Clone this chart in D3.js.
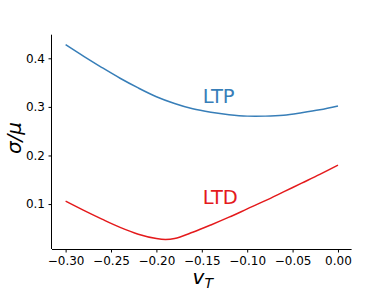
<!DOCTYPE html>
<html>
<head>
<meta charset="utf-8">
<script src="https://cdn.jsdelivr.net/npm/d3@7"></script>
<style>
  body { margin: 0; background: #fff; }
  text { font-family: "DejaVu Sans", sans-serif; }
</style>
</head>
<body>
<script>
// threshold values on the x axis
var vT = [-0.30, -0.28, -0.26, -0.24, -0.22, -0.20, -0.18, -0.16, -0.14, -0.12, -0.10, -0.08, -0.06, -0.04, -0.02, 0.00];
// sigma/mu for each curve
var ltp = [0.428, 0.404, 0.381, 0.359, 0.339, 0.321, 0.307, 0.296, 0.289, 0.284, 0.281, 0.281, 0.283, 0.288, 0.294, 0.302];
var ltdX = [-0.30, -0.28, -0.26, -0.24, -0.22, -0.20, -0.19, -0.18, -0.16, -0.14, -0.12, -0.10, -0.08, -0.06, -0.04, -0.02, 0.00];
var ltd = [0.106, 0.087, 0.069, 0.052, 0.038, 0.029, 0.027, 0.029, 0.042, 0.057, 0.073, 0.090, 0.107, 0.125, 0.143, 0.161, 0.180];

var xTicks = [-0.30, -0.25, -0.20, -0.15, -0.10, -0.05, 0.00];
var yTicks = [0.1, 0.2, 0.3, 0.4];

var width = 390, height = 292;
var mLeft = 52, mRight = 351.6, mTop = 34.7, mBottom = 249;

var svg = d3.select("body").append("svg")
    .attr("width", width)
    .attr("height", height);

var x = d3.scaleLinear().domain([-0.315, 0.015]).range([mLeft, mRight]);
var y = d3.scaleLinear().domain([0.0075, 0.4486]).range([mBottom, mTop]);

//axes, matplotlib look: only left and bottom spines
var xAxis = svg.append("g")
    .attr("transform", "translate(0," + mBottom + ")")
    .call(d3.axisBottom(x).tickValues(xTicks).tickSize(3.5).tickPadding(3.5)
      .tickFormat(function(d){ return d3.format(".2f")(d).replace("-", "\u2212"); }));
var yAxis = svg.append("g")
    .attr("transform", "translate(" + mLeft + ",0)")
    .call(d3.axisLeft(y).tickValues(yTicks).tickSize(3.5).tickPadding(3.5)
      .tickFormat(d3.format(".1f")));

[xAxis, yAxis].forEach(function(a){
  a.attr("font-size", 12).attr("font-family", "DejaVu Sans");
  a.select(".domain").attr("stroke", "#000").attr("stroke-width", 1);
  a.selectAll(".tick line").attr("stroke", "#000").attr("stroke-width", 1);
  a.selectAll(".tick text").attr("fill", "#000");
});
// plain spines without d3's outer ticks
yAxis.select(".domain").attr("d", "M-0.5," + mTop + "V" + mBottom);
xAxis.select(".domain").attr("d", "M" + mLeft + ",0.5H" + mRight);

var line = d3.line()
    .x(function(d){ return x(d[0]); })
    .y(function(d){ return y(d[1]); })
    .curve(d3.curveCatmullRom.alpha(0.5));

svg.append("path")
    .datum(d3.zip(vT, ltp))
    .attr("d", line)
    .attr("fill", "none")
    .attr("stroke", "#377eb8")
    .attr("stroke-width", 1.5);

svg.append("path")
    .datum(d3.zip(ltdX, ltd))
    .attr("d", line)
    .attr("fill", "none")
    .attr("stroke", "#e41a1c")
    .attr("stroke-width", 1.5);

//curve labels
svg.append("text")
    .attr("x", x(-0.149)).attr("y", y(0.308))
    .attr("font-size", 19.5)
    .attr("fill", "#377eb8")
    .text("LTP");
svg.append("text")
    .attr("x", x(-0.149)).attr("y", y(0.0995))
    .attr("font-size", 19.5)
    .attr("fill", "#e41a1c")
    .text("LTD");

//axis labels
var xl = svg.append("text")
    .attr("x", (mLeft + mRight) / 2 + 1)
    .attr("y", 284)
    .attr("text-anchor", "middle")
    .attr("font-size", 20);
xl.append("tspan").attr("font-style", "italic").text("v");
xl.append("tspan").attr("font-style", "italic").attr("font-size", 14)
    .attr("dy", 4).text("T");

svg.append("text")
    .attr("transform", "translate(21," + 138 + ") rotate(-90)")
    .attr("text-anchor", "middle")
    .attr("font-size", 20)
    .attr("font-style", "italic")
    .text("\u03c3/\u03bc");
</script>
</body>
</html>
